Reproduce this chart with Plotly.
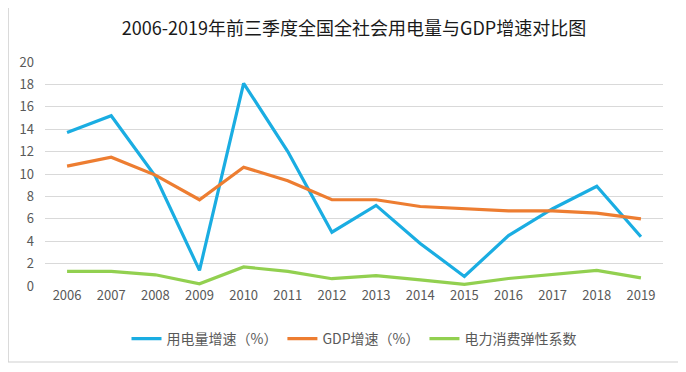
import plotly.graph_objects as go

years = ["2006", "2007", "2008", "2009", "2010", "2011", "2012", "2013", "2014", "2015", "2016", "2017", "2018", "2019"]
power_growth = [13.7, 15.2, 9.8, 1.4, 18.1, 12.0, 4.8, 7.2, 3.8, 0.85, 4.5, 6.9, 8.9, 4.4]
gdp_growth = [10.7, 11.5, 9.9, 7.7, 10.6, 9.4, 7.7, 7.7, 7.1, 6.9, 6.7, 6.7, 6.5, 6.0]
elasticity = [1.3, 1.3, 1.0, 0.2, 1.7, 1.3, 0.65, 0.93, 0.55, 0.15, 0.67, 1.0, 1.39, 0.73]
y_ticks = [0, 2, 4, 6, 8, 10, 12, 14, 16, 18, 20]

names = ["用电量增速（%）", "GDP增速（%）", "电力消费弹性系数"]
colors = ["#1AADE2", "#ED7D31", "#92D050"]

FONT = "Noto Sans CJK SC"
fig = go.Figure()
for name, vals, c in zip(names, [power_growth, gdp_growth, elasticity], colors):
    fig.add_trace(go.Scatter(x=years, y=vals, mode="lines", name=name,
                             line=dict(color=c, width=3.2)))

# the page body adds an 8px offset; work in reference-pixel coordinates
OFF = 8
W, H = 686 - OFF, 372 - OFF
left, right, top, bottom = 42, 663, 62, 286  # plot area in reference pixels
ml, mr, mt, mb = left - OFF, W - (right - OFF), top - OFF, H - (bottom - OFF)
pw, ph = W - ml - mr, H - mt - mb

def px2x(px):
    return (px - OFF - ml) / pw

def py2y(py):
    return (H - mb - (py - OFF)) / ph

fig.update_layout(
    width=W, height=H,
    margin=dict(l=ml, r=mr, t=mt, b=mb),
    paper_bgcolor="white", plot_bgcolor="white",
    font=dict(family=FONT, color="#595959", size=13),
    title=dict(text="2006-2019年前三季度全国全社会用电量与GDP增速对比图",
               x=0.5, xref="paper", xanchor="center", y=1 - (29 - OFF) / H, yanchor="middle",
               font=dict(family=FONT, size=18, color="#1a1a1a")),
    xaxis=dict(type="category", range=[-0.5, 13.5], showgrid=False, showline=False,
               ticks="", zeroline=False, tickfont=dict(size=13, color="#595959"),
               fixedrange=True),
    yaxis=dict(range=[0, 20], tickvals=y_ticks, showgrid=True, gridcolor="#D9D9D9",
               gridwidth=1, zeroline=False, showline=False, ticks="",
               tickfont=dict(size=13, color="#595959"), ticklabelstandoff=10),
    legend=dict(orientation="h", x=0.5, xanchor="center", y=py2y(339), yanchor="middle",
                font=dict(size=14, color="#595959"), itemwidth=30, tracegroupgap=0),
    showlegend=True,
    shapes=[dict(type="rect", xref="paper", yref="paper",
                 x0=px2x(5), x1=px2x(681), y0=py2y(362), y1=py2y(4),
                 line=dict(color="#D0D0D0", width=1.2), layer="above")],
)

fig.write_html("out.html")
